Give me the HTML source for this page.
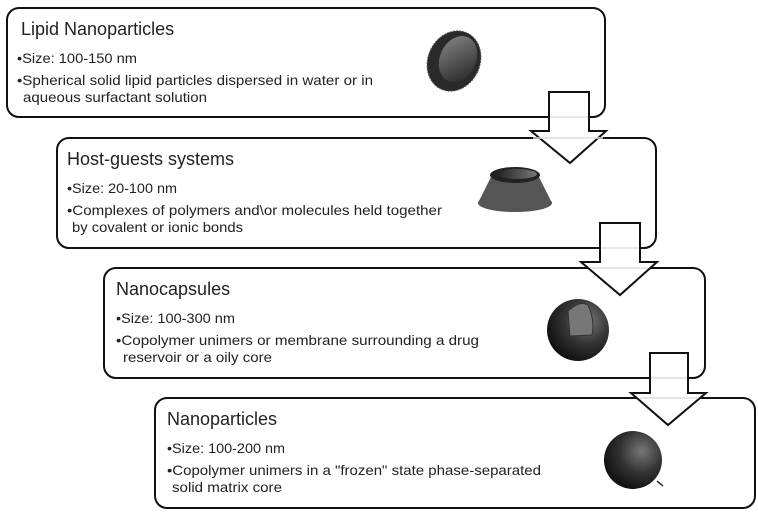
<!DOCTYPE html>
<html><head><meta charset="utf-8"><style>
body{margin:0;background:#fff}
svg{display:block}
text{font-family:"Liberation Sans",sans-serif;fill:#222}
.t{font-size:18px}
.b{font-size:14px}
</style></head><body>
<svg width="758" height="513" viewBox="0 0 758 513">
<defs>
<radialGradient id="g1" cx="0.65" cy="0.35" r="0.75"><stop offset="0" stop-color="#777"/><stop offset="0.5" stop-color="#333"/><stop offset="1" stop-color="#0a0a0a"/></radialGradient>
<linearGradient id="g2" x1="0" y1="0" x2="1" y2="0"><stop offset="0" stop-color="#222"/><stop offset="1" stop-color="#777"/></linearGradient>
<linearGradient id="g3" x1="0" y1="0" x2="1" y2="1"><stop offset="0" stop-color="#888"/><stop offset="1" stop-color="#222"/></linearGradient>
</defs>
<g fill="#fff" stroke="#111" stroke-width="2">
<rect x="7" y="8" width="598" height="109" rx="12"/>
<rect x="57" y="138" width="599" height="110" rx="12"/>
<rect x="104" y="268" width="601" height="110" rx="12"/>
<rect x="155" y="398" width="600" height="110" rx="12"/>
<polygon points="549,92 589,92 589,131 606,131 570,163 531,131 549,131"/>
<polygon points="600,223 640,223 640,262 657,262 620,295 581,262 600,262"/>
<polygon points="650,353 688,353 688,393 706,393 668,425 631,393 650,393"/>
</g>
<g stroke="#ddd" stroke-width="1.5">
<line x1="550" y1="117" x2="588" y2="117"/>
<line x1="533" y1="138" x2="603" y2="138"/>
<line x1="601" y1="248" x2="639" y2="248"/>
<line x1="590" y1="268" x2="648" y2="268"/>
<line x1="651" y1="378" x2="687" y2="378"/>
<line x1="640" y1="398" x2="697" y2="398"/>
</g>

<text class="t" x="21" y="35">Lipid Nanoparticles</text>
<text class="b" x="17" y="63" textLength="120" lengthAdjust="spacingAndGlyphs">•Size: 100-150 nm</text>
<text class="b" x="17" y="85" textLength="356" lengthAdjust="spacingAndGlyphs">•Spherical solid lipid particles dispersed in water or in</text>
<text class="b" x="23" y="102" textLength="184" lengthAdjust="spacingAndGlyphs">aqueous surfactant solution</text>
<ellipse cx="454" cy="61" rx="26" ry="31" fill="#2a2a2a" stroke="#555" stroke-dasharray="1.5 1.5" transform="rotate(25 454 61)"/>
<ellipse cx="458" cy="59" rx="18" ry="24" fill="url(#g3)" transform="rotate(25 458 59)"/>

<text class="t" x="67" y="165">Host-guests systems</text>
<text class="b" x="67" y="193" textLength="110" lengthAdjust="spacingAndGlyphs">•Size: 20-100 nm</text>
<text class="b" x="67" y="215" textLength="375" lengthAdjust="spacingAndGlyphs">•Complexes of polymers and\or molecules held together</text>
<text class="b" x="72" y="232" textLength="171" lengthAdjust="spacingAndGlyphs">by covalent or ionic bonds</text>
<polygon points="492,175 538,175 552,203 478,203" fill="#555"/>
<ellipse cx="515" cy="203" rx="37" ry="9" fill="#555"/>
<ellipse cx="515" cy="175" rx="25" ry="8" fill="#222"/>
<ellipse cx="517" cy="174" rx="20" ry="5" fill="url(#g2)"/>

<text class="t" x="116" y="295">Nanocapsules</text>
<text class="b" x="116" y="323" textLength="119" lengthAdjust="spacingAndGlyphs">•Size: 100-300 nm</text>
<text class="b" x="116" y="345" textLength="363" lengthAdjust="spacingAndGlyphs">•Copolymer unimers or membrane surrounding  a drug</text>
<text class="b" x="123" y="362" textLength="149" lengthAdjust="spacingAndGlyphs">reservoir or a oily core</text>
<circle cx="578" cy="330" r="31" fill="url(#g1)"/>
<path d="M568,311 Q580,300 588,305 Q595,320 592,335 L570,336 Z" fill="#777" stroke="#333"/>

<text class="t" x="167" y="425">Nanoparticles</text>
<text class="b" x="167" y="453" textLength="118" lengthAdjust="spacingAndGlyphs">•Size: 100-200 nm</text>
<text class="b" x="167" y="475" textLength="374" lengthAdjust="spacingAndGlyphs">•Copolymer unimers in a "frozen"  state phase-separated</text>
<text class="b" x="172" y="492" textLength="110" lengthAdjust="spacingAndGlyphs">solid matrix core</text>
<circle cx="633" cy="460" r="29" fill="url(#g1)"/>
<line x1="657" y1="481" x2="663" y2="486" stroke="#333" stroke-width="1.5"/>
</svg>
</body></html>
